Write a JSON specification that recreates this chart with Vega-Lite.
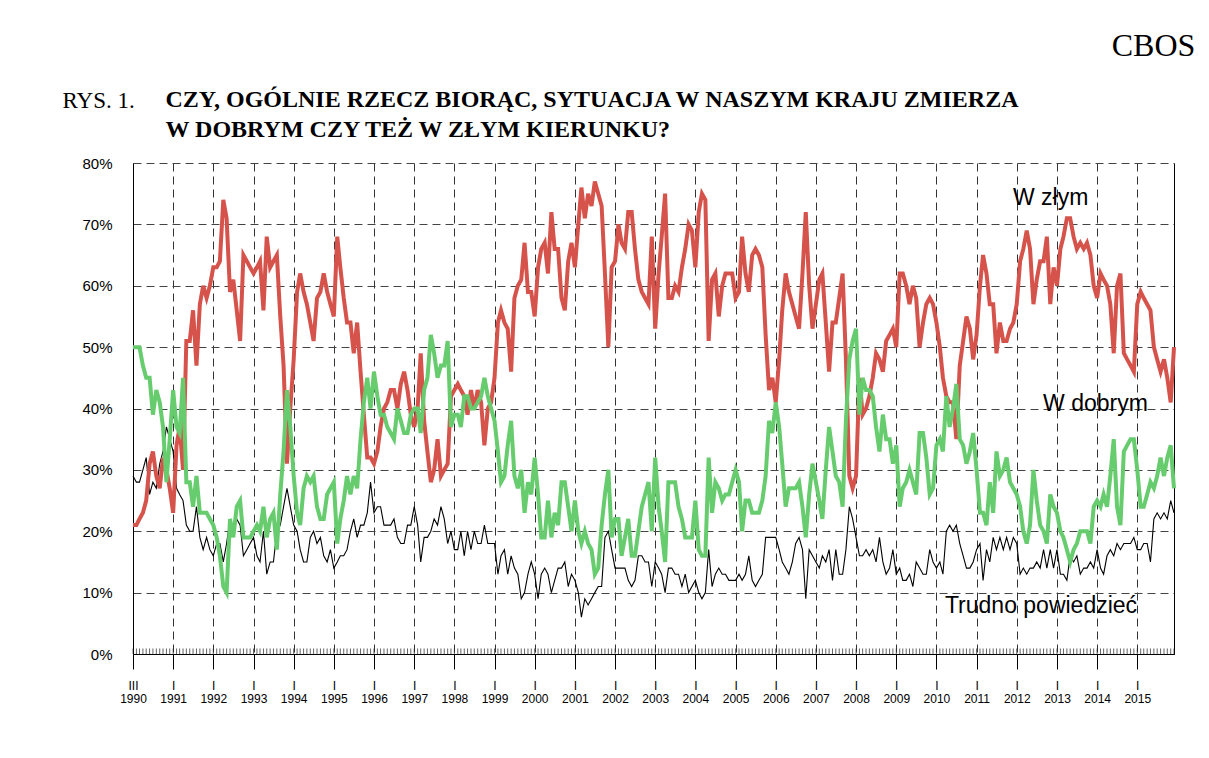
{
  "$schema": "https://vega.github.io/schema/vega-lite/v6.json",
  "width": 1041,
  "height": 491,
  "autosize": {"type": "none"},
  "padding": {"left": 133, "top": 163, "right": 35, "bottom": 104},
  "background": "white",
  "config": {"view": {"stroke": null}, "font": "Liberation Sans"},
  "datasets": {
    "survey": [
      {"date":"1990-01-01","zly":21,"dobry":50,"trudno":29},{"date":"1990-02-01","zly":21,"dobry":50,"trudno":28},{"date":"1990-03-01","zly":22,"dobry":50,"trudno":28},{"date":"1990-04-01","zly":23,"dobry":47,"trudno":30},{"date":"1990-05-01","zly":25,"dobry":45,"trudno":32},{"date":"1990-06-01","zly":31,"dobry":45,"trudno":26},{"date":"1990-07-01","zly":33,"dobry":39,"trudno":28},{"date":"1990-08-01","zly":29,"dobry":43,"trudno":27},{"date":"1990-09-01","zly":27,"dobry":41,"trudno":31},{"date":"1990-10-01","zly":32,"dobry":37,"trudno":33},{"date":"1990-11-01","zly":30,"dobry":28,"trudno":37},{"date":"1990-12-01","zly":27,"dobry":35,"trudno":35},
      {"date":"1991-01-01","zly":23,"dobry":43,"trudno":33},{"date":"1991-02-01","zly":34,"dobry":37,"trudno":27},{"date":"1991-03-01","zly":37,"dobry":36,"trudno":26},{"date":"1991-04-01","zly":30,"dobry":45,"trudno":25},{"date":"1991-05-01","zly":51,"dobry":28,"trudno":21},{"date":"1991-06-01","zly":51,"dobry":28,"trudno":20},{"date":"1991-07-01","zly":56,"dobry":24,"trudno":20},{"date":"1991-08-01","zly":47,"dobry":29,"trudno":24},{"date":"1991-09-01","zly":57,"dobry":23,"trudno":19},{"date":"1991-10-01","zly":60,"dobry":23,"trudno":17},{"date":"1991-11-01","zly":58,"dobry":23,"trudno":19},{"date":"1991-12-01","zly":60,"dobry":22,"trudno":17},
      {"date":"1992-01-01","zly":63,"dobry":21,"trudno":16},{"date":"1992-02-01","zly":63,"dobry":19,"trudno":18},{"date":"1992-03-01","zly":64,"dobry":16,"trudno":18},{"date":"1992-04-01","zly":74,"dobry":11,"trudno":15},{"date":"1992-05-01","zly":71,"dobry":10,"trudno":18},{"date":"1992-06-01","zly":59,"dobry":22,"trudno":22},{"date":"1992-07-01","zly":61,"dobry":19,"trudno":20},{"date":"1992-08-01","zly":56,"dobry":24,"trudno":22},{"date":"1992-09-01","zly":51,"dobry":25,"trudno":21},{"date":"1992-10-01","zly":65,"dobry":19,"trudno":16},{"date":"1992-11-01","zly":64,"dobry":19,"trudno":17},{"date":"1992-12-01","zly":63,"dobry":19,"trudno":18},
      {"date":"1993-01-01","zly":62,"dobry":20,"trudno":19},{"date":"1993-02-01","zly":63,"dobry":21,"trudno":16},{"date":"1993-03-01","zly":64,"dobry":20,"trudno":15},{"date":"1993-04-01","zly":56,"dobry":24,"trudno":20},{"date":"1993-05-01","zly":68,"dobry":19,"trudno":13},{"date":"1993-06-01","zly":63,"dobry":22,"trudno":15},{"date":"1993-07-01","zly":64,"dobry":23,"trudno":15},{"date":"1993-08-01","zly":65,"dobry":17,"trudno":20},{"date":"1993-09-01","zly":55,"dobry":26,"trudno":21},{"date":"1993-10-01","zly":47,"dobry":33,"trudno":24},{"date":"1993-11-01","zly":31,"dobry":43,"trudno":27},{"date":"1993-12-01","zly":40,"dobry":37,"trudno":24},
      {"date":"1994-01-01","zly":48,"dobry":29,"trudno":21},{"date":"1994-02-01","zly":59,"dobry":23,"trudno":20},{"date":"1994-03-01","zly":62,"dobry":21,"trudno":17},{"date":"1994-04-01","zly":59,"dobry":27,"trudno":15},{"date":"1994-05-01","zly":57,"dobry":29,"trudno":15},{"date":"1994-06-01","zly":54,"dobry":28,"trudno":19},{"date":"1994-07-01","zly":51,"dobry":29,"trudno":20},{"date":"1994-08-01","zly":58,"dobry":24,"trudno":18},{"date":"1994-09-01","zly":59,"dobry":22,"trudno":19},{"date":"1994-10-01","zly":62,"dobry":22,"trudno":16},{"date":"1994-11-01","zly":59,"dobry":26,"trudno":15},{"date":"1994-12-01","zly":57,"dobry":27,"trudno":17},
      {"date":"1995-01-01","zly":55,"dobry":28,"trudno":14},{"date":"1995-02-01","zly":68,"dobry":18,"trudno":15},{"date":"1995-03-01","zly":63,"dobry":22,"trudno":16},{"date":"1995-04-01","zly":58,"dobry":25,"trudno":16},{"date":"1995-05-01","zly":54,"dobry":29,"trudno":17},{"date":"1995-06-01","zly":54,"dobry":26,"trudno":20},{"date":"1995-07-01","zly":49,"dobry":29,"trudno":22},{"date":"1995-08-01","zly":54,"dobry":27,"trudno":19},{"date":"1995-09-01","zly":46,"dobry":35,"trudno":21},{"date":"1995-10-01","zly":39,"dobry":41,"trudno":21},{"date":"1995-11-01","zly":32,"dobry":45,"trudno":23},{"date":"1995-12-01","zly":32,"dobry":40,"trudno":28},
      {"date":"1996-01-01","zly":31,"dobry":46,"trudno":23},{"date":"1996-02-01","zly":33,"dobry":42,"trudno":24},{"date":"1996-03-01","zly":37,"dobry":39,"trudno":24},{"date":"1996-04-01","zly":40,"dobry":39,"trudno":21},{"date":"1996-05-01","zly":41,"dobry":37,"trudno":21},{"date":"1996-06-01","zly":43,"dobry":36,"trudno":21},{"date":"1996-07-01","zly":43,"dobry":35,"trudno":22},{"date":"1996-08-01","zly":40,"dobry":40,"trudno":19},{"date":"1996-09-01","zly":44,"dobry":38,"trudno":18},{"date":"1996-10-01","zly":46,"dobry":36,"trudno":18},{"date":"1996-11-01","zly":43,"dobry":36,"trudno":21},{"date":"1996-12-01","zly":39,"dobry":39,"trudno":21},
      {"date":"1997-01-01","zly":37,"dobry":40,"trudno":24},{"date":"1997-02-01","zly":40,"dobry":40,"trudno":21},{"date":"1997-03-01","zly":49,"dobry":36,"trudno":15},{"date":"1997-04-01","zly":38,"dobry":43,"trudno":19},{"date":"1997-05-01","zly":33,"dobry":45,"trudno":19},{"date":"1997-06-01","zly":28,"dobry":52,"trudno":20},{"date":"1997-07-01","zly":30,"dobry":49,"trudno":22},{"date":"1997-08-01","zly":35,"dobry":45,"trudno":21},{"date":"1997-09-01","zly":29,"dobry":47,"trudno":24},{"date":"1997-10-01","zly":30,"dobry":47,"trudno":22},{"date":"1997-11-01","zly":31,"dobry":51,"trudno":18},{"date":"1997-12-01","zly":42,"dobry":37,"trudno":20},
      {"date":"1998-01-01","zly":43,"dobry":39,"trudno":17},{"date":"1998-02-01","zly":44,"dobry":39,"trudno":17},{"date":"1998-03-01","zly":43,"dobry":37,"trudno":20},{"date":"1998-04-01","zly":42,"dobry":42,"trudno":16},{"date":"1998-05-01","zly":39,"dobry":42,"trudno":20},{"date":"1998-06-01","zly":43,"dobry":40,"trudno":17},{"date":"1998-07-01","zly":40,"dobry":40,"trudno":20},{"date":"1998-08-01","zly":43,"dobry":41,"trudno":18},{"date":"1998-09-01","zly":41,"dobry":42,"trudno":18},{"date":"1998-10-01","zly":34,"dobry":45,"trudno":21},{"date":"1998-11-01","zly":40,"dobry":42,"trudno":18},{"date":"1998-12-01","zly":41,"dobry":40,"trudno":18},
      {"date":"1999-01-01","zly":45,"dobry":38,"trudno":18},{"date":"1999-02-01","zly":54,"dobry":33,"trudno":13},{"date":"1999-03-01","zly":56,"dobry":28,"trudno":16},{"date":"1999-04-01","zly":54,"dobry":29,"trudno":17},{"date":"1999-05-01","zly":53,"dobry":34,"trudno":13},{"date":"1999-06-01","zly":46,"dobry":38,"trudno":16},{"date":"1999-07-01","zly":58,"dobry":29,"trudno":14},{"date":"1999-08-01","zly":60,"dobry":27,"trudno":13},{"date":"1999-09-01","zly":61,"dobry":30,"trudno":9},{"date":"1999-10-01","zly":67,"dobry":23,"trudno":10},{"date":"1999-11-01","zly":59,"dobry":28,"trudno":13},{"date":"1999-12-01","zly":59,"dobry":26,"trudno":15},
      {"date":"2000-01-01","zly":55,"dobry":32,"trudno":13},{"date":"2000-02-01","zly":63,"dobry":26,"trudno":9},{"date":"2000-03-01","zly":66,"dobry":19,"trudno":13},{"date":"2000-04-01","zly":67,"dobry":19,"trudno":14},{"date":"2000-05-01","zly":62,"dobry":25,"trudno":13},{"date":"2000-06-01","zly":72,"dobry":19,"trudno":10},{"date":"2000-07-01","zly":66,"dobry":23,"trudno":12},{"date":"2000-08-01","zly":66,"dobry":21,"trudno":14},{"date":"2000-09-01","zly":58,"dobry":28,"trudno":14},{"date":"2000-10-01","zly":56,"dobry":28,"trudno":15},{"date":"2000-11-01","zly":64,"dobry":24,"trudno":11},{"date":"2000-12-01","zly":67,"dobry":20,"trudno":13},
      {"date":"2001-01-01","zly":63,"dobry":25,"trudno":12},{"date":"2001-02-01","zly":70,"dobry":20,"trudno":10},{"date":"2001-03-01","zly":76,"dobry":18,"trudno":6},{"date":"2001-04-01","zly":71,"dobry":20,"trudno":9},{"date":"2001-05-01","zly":75,"dobry":18,"trudno":8},{"date":"2001-06-01","zly":73,"dobry":17,"trudno":9},{"date":"2001-07-01","zly":77,"dobry":13,"trudno":10},{"date":"2001-08-01","zly":75,"dobry":14,"trudno":11},{"date":"2001-09-01","zly":73,"dobry":21,"trudno":11},{"date":"2001-10-01","zly":62,"dobry":26,"trudno":19},{"date":"2001-11-01","zly":50,"dobry":30,"trudno":20},{"date":"2001-12-01","zly":63,"dobry":19,"trudno":17},
      {"date":"2002-01-01","zly":64,"dobry":22,"trudno":14},{"date":"2002-02-01","zly":70,"dobry":22,"trudno":14},{"date":"2002-03-01","zly":67,"dobry":16,"trudno":14},{"date":"2002-04-01","zly":66,"dobry":19,"trudno":14},{"date":"2002-05-01","zly":72,"dobry":22,"trudno":12},{"date":"2002-06-01","zly":72,"dobry":16,"trudno":11},{"date":"2002-07-01","zly":66,"dobry":16,"trudno":12},{"date":"2002-08-01","zly":61,"dobry":20,"trudno":16},{"date":"2002-09-01","zly":59,"dobry":24,"trudno":16},{"date":"2002-10-01","zly":58,"dobry":26,"trudno":15},{"date":"2002-11-01","zly":57,"dobry":28,"trudno":15},{"date":"2002-12-01","zly":68,"dobry":20,"trudno":11},
      {"date":"2003-01-01","zly":53,"dobry":32,"trudno":15},{"date":"2003-02-01","zly":62,"dobry":24,"trudno":14},{"date":"2003-03-01","zly":68,"dobry":20,"trudno":13},{"date":"2003-04-01","zly":75,"dobry":15,"trudno":10},{"date":"2003-05-01","zly":58,"dobry":28,"trudno":14},{"date":"2003-06-01","zly":58,"dobry":28,"trudno":14},{"date":"2003-07-01","zly":60,"dobry":28,"trudno":13},{"date":"2003-08-01","zly":59,"dobry":24,"trudno":13},{"date":"2003-09-01","zly":63,"dobry":22,"trudno":11},{"date":"2003-10-01","zly":66,"dobry":19,"trudno":13},{"date":"2003-11-01","zly":70,"dobry":19,"trudno":10},{"date":"2003-12-01","zly":69,"dobry":19,"trudno":11},
      {"date":"2004-01-01","zly":63,"dobry":25,"trudno":12},{"date":"2004-02-01","zly":72,"dobry":17,"trudno":10},{"date":"2004-03-01","zly":75,"dobry":16,"trudno":9},{"date":"2004-04-01","zly":74,"dobry":16,"trudno":10},{"date":"2004-05-01","zly":51,"dobry":32,"trudno":17},{"date":"2004-06-01","zly":61,"dobry":23,"trudno":11},{"date":"2004-07-01","zly":62,"dobry":28,"trudno":13},{"date":"2004-08-01","zly":55,"dobry":27,"trudno":14},{"date":"2004-09-01","zly":60,"dobry":25,"trudno":13},{"date":"2004-10-01","zly":62,"dobry":26,"trudno":13},{"date":"2004-11-01","zly":62,"dobry":26,"trudno":12},{"date":"2004-12-01","zly":62,"dobry":28,"trudno":12},
      {"date":"2005-01-01","zly":58,"dobry":30,"trudno":12},{"date":"2005-02-01","zly":59,"dobry":28,"trudno":13},{"date":"2005-03-01","zly":68,"dobry":20,"trudno":12},{"date":"2005-04-01","zly":62,"dobry":25,"trudno":13},{"date":"2005-05-01","zly":59,"dobry":25,"trudno":16},{"date":"2005-06-01","zly":65,"dobry":23,"trudno":12},{"date":"2005-07-01","zly":66,"dobry":23,"trudno":11},{"date":"2005-08-01","zly":65,"dobry":23,"trudno":12},{"date":"2005-09-01","zly":63,"dobry":25,"trudno":13},{"date":"2005-10-01","zly":52,"dobry":29,"trudno":19},{"date":"2005-11-01","zly":43,"dobry":38,"trudno":19},{"date":"2005-12-01","zly":45,"dobry":36,"trudno":19},
      {"date":"2006-01-01","zly":41,"dobry":41,"trudno":19},{"date":"2006-02-01","zly":48,"dobry":37,"trudno":17},{"date":"2006-03-01","zly":56,"dobry":31,"trudno":15},{"date":"2006-04-01","zly":62,"dobry":24,"trudno":14},{"date":"2006-05-01","zly":59,"dobry":27,"trudno":13},{"date":"2006-06-01","zly":57,"dobry":27,"trudno":15},{"date":"2006-07-01","zly":55,"dobry":27,"trudno":18},{"date":"2006-08-01","zly":53,"dobry":28,"trudno":19},{"date":"2006-09-01","zly":62,"dobry":24,"trudno":17},{"date":"2006-10-01","zly":72,"dobry":19,"trudno":9},{"date":"2006-11-01","zly":60,"dobry":26,"trudno":17},{"date":"2006-12-01","zly":53,"dobry":31,"trudno":16},
      {"date":"2007-01-01","zly":57,"dobry":28,"trudno":15},{"date":"2007-02-01","zly":61,"dobry":25,"trudno":14},{"date":"2007-03-01","zly":62,"dobry":22,"trudno":16},{"date":"2007-04-01","zly":54,"dobry":30,"trudno":15},{"date":"2007-05-01","zly":46,"dobry":37,"trudno":17},{"date":"2007-06-01","zly":54,"dobry":33,"trudno":12},{"date":"2007-07-01","zly":54,"dobry":29,"trudno":17},{"date":"2007-08-01","zly":58,"dobry":28,"trudno":13},{"date":"2007-09-01","zly":62,"dobry":24,"trudno":13},{"date":"2007-10-01","zly":48,"dobry":38,"trudno":17},{"date":"2007-11-01","zly":29,"dobry":48,"trudno":24},{"date":"2007-12-01","zly":27,"dobry":51,"trudno":22},
      {"date":"2008-01-01","zly":29,"dobry":53,"trudno":19},{"date":"2008-02-01","zly":45,"dobry":39,"trudno":16},{"date":"2008-03-01","zly":39,"dobry":45,"trudno":16},{"date":"2008-04-01","zly":40,"dobry":43,"trudno":17},{"date":"2008-05-01","zly":42,"dobry":43,"trudno":16},{"date":"2008-06-01","zly":45,"dobry":42,"trudno":17},{"date":"2008-07-01","zly":49,"dobry":37,"trudno":15},{"date":"2008-08-01","zly":48,"dobry":33,"trudno":19},{"date":"2008-09-01","zly":46,"dobry":39,"trudno":15},{"date":"2008-10-01","zly":51,"dobry":35,"trudno":13},{"date":"2008-11-01","zly":52,"dobry":35,"trudno":14},{"date":"2008-12-01","zly":53,"dobry":31,"trudno":17},
      {"date":"2009-01-01","zly":50,"dobry":34,"trudno":13},{"date":"2009-02-01","zly":62,"dobry":24,"trudno":14},{"date":"2009-03-01","zly":62,"dobry":27,"trudno":12},{"date":"2009-04-01","zly":60,"dobry":28,"trudno":12},{"date":"2009-05-01","zly":57,"dobry":30,"trudno":13},{"date":"2009-06-01","zly":60,"dobry":28,"trudno":11},{"date":"2009-07-01","zly":58,"dobry":26,"trudno":15},{"date":"2009-08-01","zly":50,"dobry":36,"trudno":14},{"date":"2009-09-01","zly":54,"dobry":36,"trudno":13},{"date":"2009-10-01","zly":57,"dobry":32,"trudno":13},{"date":"2009-11-01","zly":58,"dobry":26,"trudno":17},{"date":"2009-12-01","zly":57,"dobry":27,"trudno":15},
      {"date":"2010-01-01","zly":54,"dobry":34,"trudno":14},{"date":"2010-02-01","zly":50,"dobry":35,"trudno":15},{"date":"2010-03-01","zly":45,"dobry":33,"trudno":13},{"date":"2010-04-01","zly":42,"dobry":42,"trudno":20},{"date":"2010-05-01","zly":41,"dobry":37,"trudno":21},{"date":"2010-06-01","zly":41,"dobry":40,"trudno":20},{"date":"2010-07-01","zly":35,"dobry":44,"trudno":21},{"date":"2010-08-01","zly":47,"dobry":35,"trudno":18},{"date":"2010-09-01","zly":51,"dobry":34,"trudno":16},{"date":"2010-10-01","zly":55,"dobry":31,"trudno":14},{"date":"2010-11-01","zly":53,"dobry":33,"trudno":14},{"date":"2010-12-01","zly":48,"dobry":36,"trudno":15},
      {"date":"2011-01-01","zly":52,"dobry":30,"trudno":17},{"date":"2011-02-01","zly":60,"dobry":23,"trudno":18},{"date":"2011-03-01","zly":65,"dobry":23,"trudno":12},{"date":"2011-04-01","zly":62,"dobry":21,"trudno":17},{"date":"2011-05-01","zly":57,"dobry":28,"trudno":15},{"date":"2011-06-01","zly":57,"dobry":23,"trudno":19},{"date":"2011-07-01","zly":49,"dobry":33,"trudno":17},{"date":"2011-08-01","zly":54,"dobry":29,"trudno":19},{"date":"2011-09-01","zly":51,"dobry":30,"trudno":17},{"date":"2011-10-01","zly":51,"dobry":32,"trudno":19},{"date":"2011-11-01","zly":53,"dobry":28,"trudno":17},{"date":"2011-12-01","zly":54,"dobry":27,"trudno":19},
      {"date":"2012-01-01","zly":57,"dobry":26,"trudno":18},{"date":"2012-02-01","zly":64,"dobry":24,"trudno":13},{"date":"2012-03-01","zly":66,"dobry":20,"trudno":14},{"date":"2012-04-01","zly":69,"dobry":18,"trudno":13},{"date":"2012-05-01","zly":66,"dobry":21,"trudno":14},{"date":"2012-06-01","zly":57,"dobry":30,"trudno":14},{"date":"2012-07-01","zly":61,"dobry":25,"trudno":15},{"date":"2012-08-01","zly":64,"dobry":21,"trudno":14},{"date":"2012-09-01","zly":64,"dobry":20,"trudno":17},{"date":"2012-10-01","zly":68,"dobry":18,"trudno":14},{"date":"2012-11-01","zly":57,"dobry":26,"trudno":17},{"date":"2012-12-01","zly":63,"dobry":24,"trudno":14},
      {"date":"2013-01-01","zly":60,"dobry":23,"trudno":17},{"date":"2013-02-01","zly":66,"dobry":20,"trudno":13},{"date":"2013-03-01","zly":68,"dobry":19,"trudno":13},{"date":"2013-04-01","zly":71,"dobry":17,"trudno":12},{"date":"2013-05-01","zly":71,"dobry":15,"trudno":16},{"date":"2013-06-01","zly":68,"dobry":17,"trudno":15},{"date":"2013-07-01","zly":66,"dobry":18,"trudno":16},{"date":"2013-08-01","zly":67,"dobry":20,"trudno":13},{"date":"2013-09-01","zly":66,"dobry":20,"trudno":14},{"date":"2013-10-01","zly":67,"dobry":20,"trudno":14},{"date":"2013-11-01","zly":65,"dobry":18,"trudno":15},{"date":"2013-12-01","zly":60,"dobry":24,"trudno":14},
      {"date":"2014-01-01","zly":58,"dobry":25,"trudno":17},{"date":"2014-02-01","zly":62,"dobry":24,"trudno":14},{"date":"2014-03-01","zly":61,"dobry":26,"trudno":13},{"date":"2014-04-01","zly":60,"dobry":24,"trudno":16},{"date":"2014-05-01","zly":57,"dobry":29,"trudno":17},{"date":"2014-06-01","zly":49,"dobry":35,"trudno":16},{"date":"2014-07-01","zly":60,"dobry":24,"trudno":18},{"date":"2014-08-01","zly":62,"dobry":21,"trudno":17},{"date":"2014-09-01","zly":49,"dobry":33,"trudno":18},{"date":"2014-10-01","zly":48,"dobry":34,"trudno":18},{"date":"2014-11-01","zly":47,"dobry":35,"trudno":18},{"date":"2014-12-01","zly":46,"dobry":35,"trudno":19},
      {"date":"2015-01-01","zly":57,"dobry":30,"trudno":17},{"date":"2015-02-01","zly":59,"dobry":24,"trudno":17},{"date":"2015-03-01","zly":58,"dobry":24,"trudno":18},{"date":"2015-04-01","zly":57,"dobry":26,"trudno":18},{"date":"2015-05-01","zly":56,"dobry":28,"trudno":15},{"date":"2015-06-01","zly":50,"dobry":27,"trudno":22},{"date":"2015-07-01","zly":48,"dobry":29,"trudno":23},{"date":"2015-08-01","zly":46,"dobry":32,"trudno":22},{"date":"2015-09-01","zly":48,"dobry":29,"trudno":23},{"date":"2015-10-01","zly":45,"dobry":32,"trudno":22},{"date":"2015-11-01","zly":41,"dobry":34,"trudno":25},{"date":"2015-12-01","zly":50,"dobry":27,"trudno":23}
    ],
    "notes": [
      {"date":"2011-11-28","value":73.2,"label":"W złym"},
      {"date":"2012-08-28","value":39.6,"label":"W dobrym"},
      {"date":"2010-03-19","value":6.7,"label":"Trudno powiedzieć"}
    ]
  },
  "encoding": {
    "x": {
      "field": "date",
      "type": "temporal",
      "scale": {"type": "utc", "domain": [{"year": 1990, "month": 1, "date": 1, "utc": true}, {"year": 2015, "month": 12, "date": 1, "utc": true}]},
      "axis": {
        "title": ["CZY, OGÓLNIE RZECZ BIORĄC, SYTUACJA W NASZYM KRAJU ZMIERZA", "W DOBRYM CZY TEŻ W ZŁYM KIERUNKU?"],
        "titleX": 32, "titleY": -548, "titleAlign": "left", "titleAngle": 0, "titleBaseline": "alphabetic",
        "titleFont": "Liberation Serif", "titleFontSize": 24, "titleFontWeight": "bold", "titleLineHeight": 30, "titleColor": "black",
        "tickCount": {"interval": "year", "step": 1},
        "labelExpr": "[utcyear(datum.value) == 1990 ? 'III' : 'I', utcFormat(datum.value, '%Y')]",
        "labelFont": "Liberation Sans", "labelFontSize": 12, "labelColor": "black", "labelLineHeight": 13,
        "labelPadding": 11, "labelOverlap": false, "labelFlush": false, "labelBound": false, "labelBaseline": "top",
        "tickSize": 15, "tickColor": "black", "tickWidth": 1, "domainColor": "black", "domainWidth": 1,
        "grid": true, "gridColor": "#333333", "gridDash": [8, 5], "gridWidth": 1
      }
    }
  },
  "layer": [
    {
      "data": {"name": "survey"},
      "mark": {"type": "rule", "color": "#222222", "strokeWidth": 0.7},
      "encoding": {
        "y": {"datum": 0, "type": "quantitative", "scale": {"domain": [0, 80]},
          "axis": {"orient": "right", "labels": false, "ticks": false, "grid": false, "domainColor": "black", "domainWidth": 1,
            "title": "CBOS", "titleX": -21, "titleY": -118, "titleAngle": 0, "titleAlign": "center", "titleBaseline": "middle",
            "titleFont": "Liberation Serif", "titleFontSize": 32, "titleFontWeight": "normal", "titleColor": "black"}},
        "y2": {"datum": 0.9}
      }
    },
    {
      "data": {"name": "survey"},
      "mark": {"type": "line", "color": "black", "strokeWidth": 1.1},
      "encoding": {
        "y": {"field": "trudno", "type": "quantitative", "scale": {"domain": [0, 80]},
          "axis": {"orient": "left", "values": [0, 10, 20, 30, 40, 50, 60, 70, 80], "labelExpr": "datum.value + '%'",
            "labelFont": "Liberation Sans", "labelFontSize": 15, "labelColor": "black", "labelPadding": 21, "ticks": false,
            "domainColor": "black", "domainWidth": 1, "grid": true, "gridColor": "#444444", "gridDash": [8, 5], "gridWidth": 1,
            "title": "RYS. 1.", "titleX": -71, "titleY": -56, "titleAngle": 0, "titleAlign": "left", "titleBaseline": "alphabetic",
            "titleFont": "Liberation Serif", "titleFontSize": 23, "titleFontWeight": "normal", "titleColor": "black"}}
      }
    },
    {
      "data": {"name": "survey"},
      "mark": {"type": "line", "color": "#d6534b", "strokeWidth": 4},
      "encoding": {
        "y": {"field": "zly", "type": "quantitative", "scale": {"domain": [0, 80]}, "axis": null}
      }
    },
    {
      "data": {"name": "survey"},
      "mark": {"type": "line", "color": "#66cc6e", "strokeWidth": 4},
      "encoding": {
        "y": {"field": "dobry", "type": "quantitative", "scale": {"domain": [0, 80]}, "axis": null}
      }
    },
    {
      "data": {"name": "notes"},
      "mark": {"type": "text", "align": "left", "baseline": "alphabetic", "font": "Liberation Sans", "fontSize": 23, "color": "black"},
      "encoding": {
        "y": {"field": "value", "type": "quantitative", "scale": {"domain": [0, 80]}, "axis": null},
        "text": {"field": "label"}
      }
    }
  ],
  "resolve": {"axis": {"y": "independent"}}
}
